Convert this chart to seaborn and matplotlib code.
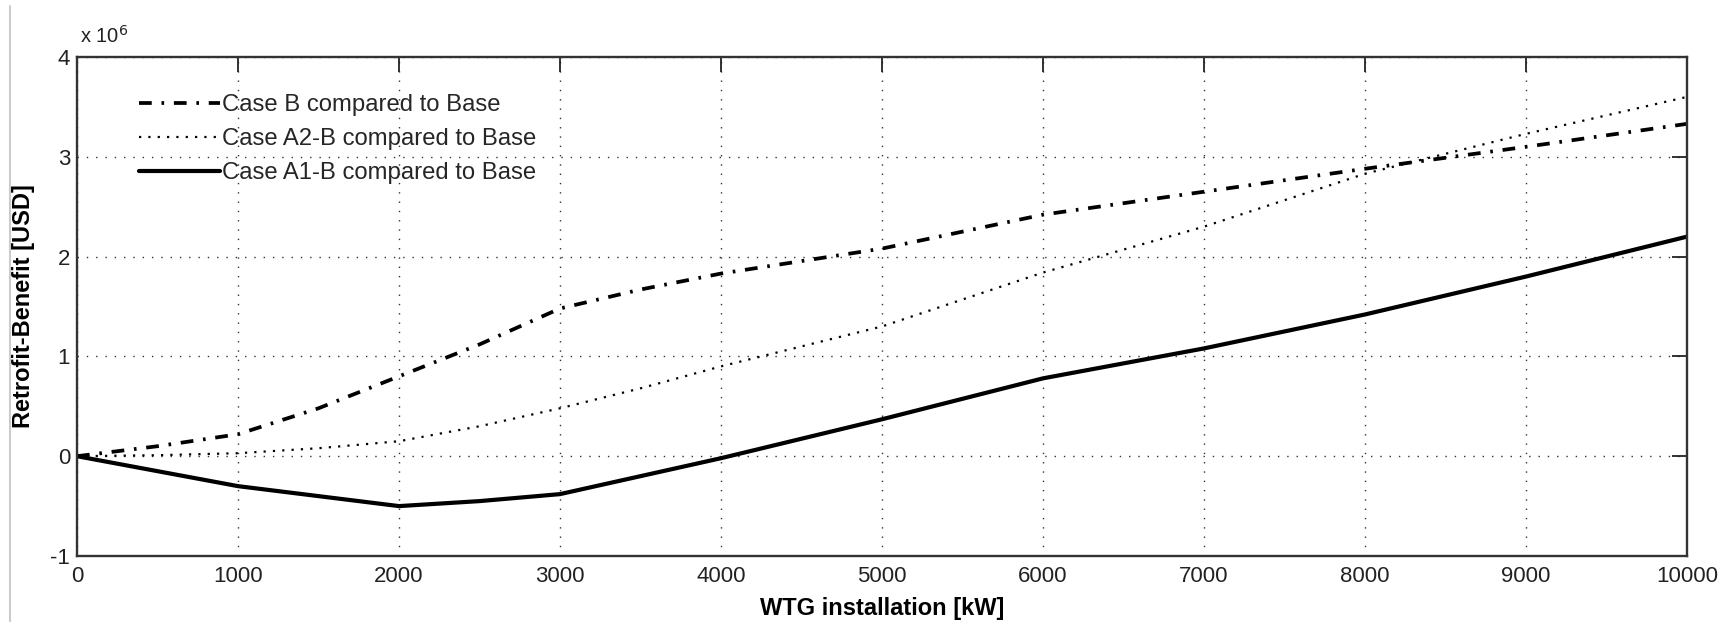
import numpy as np
import pandas as pd
import seaborn as sns
import matplotlib
matplotlib.use("Agg")
import matplotlib.pyplot as plt
from matplotlib.lines import Line2D

# Data (values in 10^6 USD)
wtg_kw = [0, 500, 1000, 1500, 2000, 2500, 3000, 3500, 4000, 5000, 6000, 7000, 8000, 9000, 10000]
case_b = [0.0, 0.10, 0.22, 0.48, 0.80, 1.12, 1.48, 1.67, 1.83, 2.08, 2.42, 2.65, 2.88, 3.10, 3.33]
case_a2b = [0.0, 0.01, 0.03, 0.08, 0.15, 0.30, 0.48, 0.68, 0.90, 1.30, 1.84, 2.30, 2.83, 3.23, 3.60]
case_a1b = [0.0, -0.15, -0.30, -0.40, -0.50, -0.45, -0.38, -0.20, -0.02, 0.37, 0.78, 1.08, 1.42, 1.80, 2.20]
labels = ["Case B compared to Base", "Case A2-B compared to Base", "Case A1-B compared to Base"]
x_ticks = [0, 1000, 2000, 3000, 4000, 5000, 6000, 7000, 8000, 9000, 10000]
y_ticks = [-1, 0, 1, 2, 3, 4]

sns.set_theme(style="white")
plt.rcParams['font.family'] = ['Liberation Sans', 'DejaVu Sans']

tick_fs = 16
leg_fs = 17.2
lab_fs = 17
off_fs = 14.5

fig = plt.figure(figsize=(17.34, 6.22), dpi=100)
ax = fig.add_axes([0.0444, 0.1061, 0.9285, 0.8023])

df = pd.DataFrame({"x": wtg_kw, "b": case_b, "a2": case_a2b, "a1": case_a1b})
sns.lineplot(data=df, x="x", y="b", ax=ax, color="black", lw=2.7,
             linestyle=(0, (3.4, 2.6, 0.7, 2.6)), label=labels[0])
sns.lineplot(data=df, x="x", y="a2", ax=ax, color="black", lw=1.6,
             linestyle=(0, (1, 3.2)), label=labels[1])
sns.lineplot(data=df, x="x", y="a1", ax=ax, color="black", lw=3.0,
             linestyle="-", label=labels[2])

ax.set_xlim(0, 10000)
ax.set_ylim(-1, 4)
ax.set_xticks(x_ticks)
ax.set_yticks(y_ticks)
ax.set_xticklabels([str(v) for v in x_ticks])
ax.set_yticklabels([str(v) for v in y_ticks])
ax.grid(True, color="#333333", linestyle=(0, (1, 5.7)), linewidth=1.0)
ax.tick_params(axis="both", which="both", direction="in", length=11, width=1.3,
               top=True, right=True, labelsize=tick_fs, colors="#222222")
ax.tick_params(axis="x", pad=7)
ax.tick_params(axis="y", pad=5)
for sp in ax.spines.values():
    sp.set_color("#333333")
    sp.set_linewidth(1.7)

ax.set_xlabel("WTG installation [kW]", fontsize=lab_fs, fontweight="bold", color="black")
ax.set_ylabel("Retrofit-Benefit [USD]", fontsize=lab_fs, fontweight="bold", color="black")
ax.xaxis.set_label_coords(0.5, -0.082)
ax.yaxis.set_label_coords(-0.026, 0.5)
ax.text(0.002, 1.028, "x 10$^6$", transform=ax.transAxes, fontsize=off_fs,
        ha="left", va="baseline", color="#222222")

em_px = leg_fs * 100 / 72
leg = ax.legend(loc="upper left", bbox_to_anchor=(0.0386, 0.925), frameon=False,
                fontsize=leg_fs, handlelength=81 / em_px, handletextpad=0.08,
                labelspacing=0.5, borderpad=0, borderaxespad=0)

fig.add_artist(Line2D([0.0058, 0.0058], [0.0, 0.99], transform=fig.transFigure,
                      color="#cccccc", lw=1.5))

fig.savefig("out.png", dpi=100, facecolor="white")
